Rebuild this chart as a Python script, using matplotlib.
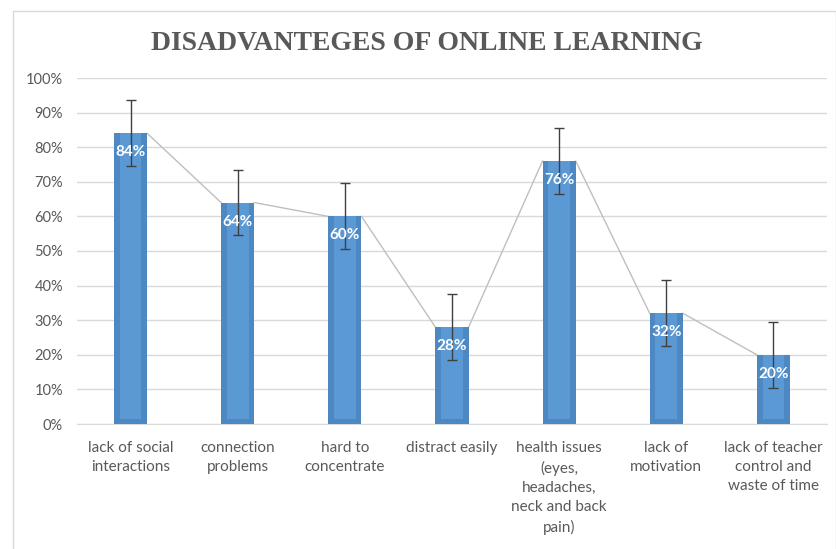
import matplotlib.pyplot as plt
import numpy as np
from matplotlib.patches import Rectangle

categories = ["lack of social\ninteractions", "connection\nproblems", "hard to\nconcentrate",
              "distract easily", "health issues\n(eyes,\nheadaches,\nneck and back\npain)",
              "lack of\nmotivation", "lack of teacher\ncontrol and\nwaste of time"]
values = [84, 64, 60, 28, 76, 32, 20]
errors = [9.52] * 7
yticks = [0, 10, 20, 30, 40, 50, 60, 70, 80, 90, 100]

text_gray = "#595959"
plt.rcParams['font.family'] = ['Lato', 'DejaVu Sans']

fig = plt.figure(figsize=(8.37, 5.49), dpi=100)
fig.patches.append(Rectangle((13 / 837, -0.1), 823 / 837, 1.1 - 11 / 549, transform=fig.transFigure,
                             fill=False, edgecolor="#d9d9d9", linewidth=1))
ax = fig.add_axes([77 / 837, 1 - 424 / 549, 750 / 837, 346 / 549])

x = np.arange(len(values))
w = 0.31
# outer darker bar, inner lighter stripe
ax.bar(x, values, width=w, color="#4d88c3", zorder=3)
ax.bar(x, [v - 1.5 for v in values], bottom=1.5, width=w * 0.65, color="#5a99d4", zorder=3)

# series lines between bar tops
for i in range(len(values) - 1):
    ax.plot([x[i] + w / 2, x[i + 1] - w / 2], [values[i], values[i + 1]],
            color="#bfbfbf", linewidth=1, zorder=2)

ax.errorbar(x, values, yerr=errors, fmt="none", ecolor="#404040", elinewidth=1,
            capsize=3.5, capthick=1, zorder=4)

for xi, v in zip(x, values):
    ax.text(xi, v - 5.5, f"{v}%", ha="center", va="center", color="white",
            fontsize=11, fontweight="bold", zorder=5)

ax.set_xlim(-0.5, len(values) - 0.5)
ax.set_ylim(0, 100)
ax.set_yticks(yticks)
ax.set_yticklabels([f"{t}%" for t in yticks], color=text_gray, fontsize=10.5)
ax.set_xticks(x)
ax.set_xticklabels(categories, color=text_gray, fontsize=11, linespacing=1.48, va="top")
ax.tick_params(axis="y", length=0, pad=10)
ax.tick_params(axis="x", length=0, pad=12)
ax.grid(axis="y", color="#d9d9d9", linewidth=1, zorder=0)
for s in ["top", "right", "left"]:
    ax.spines[s].set_visible(False)
ax.spines["bottom"].set_color("#d9d9d9")

fig.text(427 / 837, 1 - 44 / 549, "DISADVANTEGES OF ONLINE LEARNING", ha="center", va="center",
         fontsize=20, fontweight="bold", color=text_gray, family="Liberation Serif")

fig.savefig("out.png", dpi=100)
